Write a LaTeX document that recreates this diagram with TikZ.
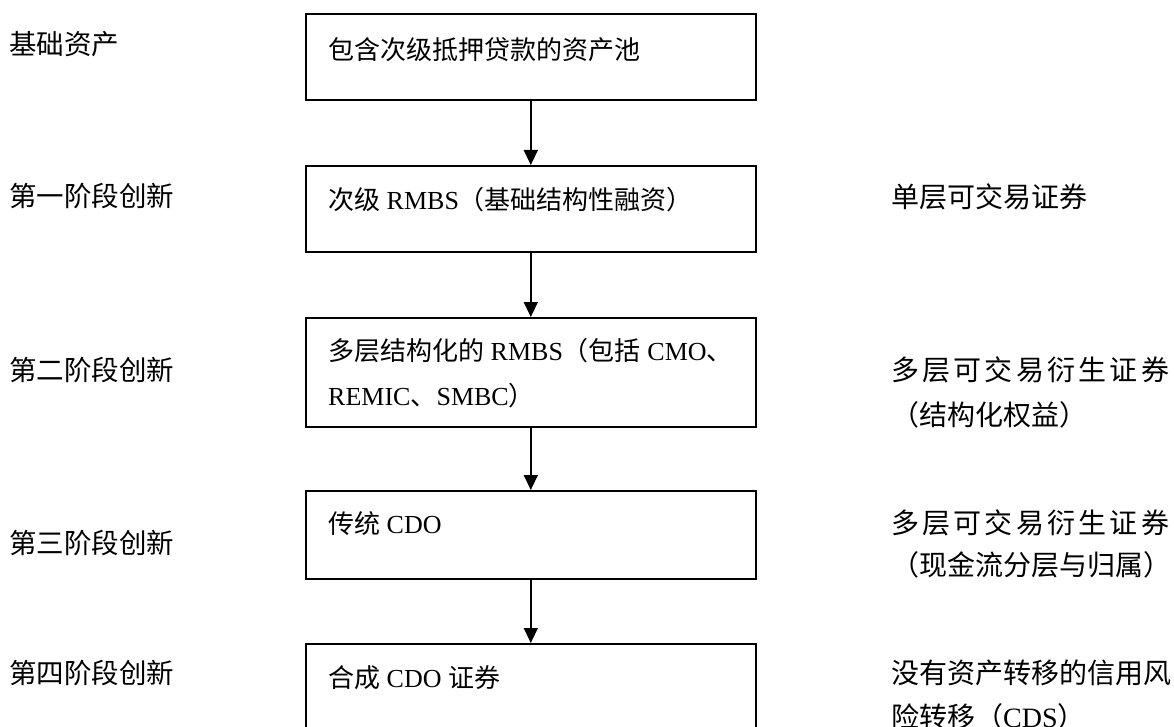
\documentclass[tikz,border=0pt]{standalone}
\usepackage{fontspec}
\setmainfont{Liberation Serif}
\newfontfamily\cjk{Noto Sans CJK SC}
\usetikzlibrary{arrows.meta}
\begin{document}
\begin{tikzpicture}[x=1pt,y=-1pt,
  box/.style={draw,line width=1.6pt,inner sep=0pt,anchor=north west,minimum width=450pt},
  txt/.style={anchor=base west,inner sep=0pt,font=\fontsize{26}{32}\selectfont},
  lbl/.style={anchor=base west,inner sep=0pt,font=\fontsize{27.5}{32}\selectfont},
  rlbl/.style={anchor=base west,inner sep=0pt,font=\fontsize{28}{32}\selectfont},
  flow/.style={line width=1.4pt,-{Triangle[length=15pt,width=14pt]}}]
\useasboundingbox (0,0) rectangle (1174,727);
\clip (0,0) rectangle (1174,727);
% boxes
\node[box,minimum height=86pt]  (b1) at (305,13)  {};
\node[box,minimum height=86pt]  (b2) at (305,165) {};
\node[box,minimum height=109pt] (b3) at (305,317) {};
\node[box,minimum height=88pt]  (b4) at (305,490) {};
\node[box,minimum height=120pt] (b5) at (305,643) {};
% connectors
\draw[flow] (b1.south) -- (b2.north);
\draw[flow] (b2.south) -- (b3.north);
\draw[flow] (b3.south) -- (b4.north);
\draw[flow] (b4.south) -- (b5.north);
% left labels
\node[lbl] (l1) at (9,55)  {\cjk 基础资产};
\node[lbl] (l2) at (9,207) {\cjk 第一阶段创新};
\node[lbl] (l3) at (9,380) {\cjk 第二阶段创新};
\node[lbl] (l4) at (9,553) {\cjk 第三阶段创新};
\node[lbl] (l5) at (9,683) {\cjk 第四阶段创新};
% box texts
\node[txt] (t1)  at (328,60)  {\cjk 包含次级抵押贷款的资产池};
\node[txt] (t2)  at (328,210) {{\cjk 次级} RMBS{\cjk （基础结构性融资）}};
\node[txt] (t3a) at (328,360) {{\cjk 多层结构化的} RMBS{\cjk （包括} CMO{\cjk 、}};
\node[txt] (t3b) at (328,405) {REMIC{\cjk 、}SMBC{\cjk ）}};
\node[txt] (t4)  at (328,533) {{\cjk 传统} CDO};
\node[txt] (t5)  at (328,687) {{\cjk 合成} CDO {\cjk 证券}};
% right texts
\node[rlbl] (r1)  at (891,208) {\cjk 单层可交易证券};
\node[rlbl] (r2a) at (891,380) {\cjk\makebox[278pt][s]{多\hfill 层\hfill 可\hfill 交\hfill 易\hfill 衍\hfill 生\hfill 证\hfill 券}};
\node[rlbl] (r2b) at (891,425) {\cjk （结构化权益）};
\node[rlbl] (r3a) at (891,533) {\cjk\makebox[278pt][s]{多\hfill 层\hfill 可\hfill 交\hfill 易\hfill 衍\hfill 生\hfill 证\hfill 券}};
\node[rlbl] (r3b) at (891,575) {\cjk （现金流分层与归属）};
\node[rlbl] (r4a) at (891,683) {\cjk 没有资产转移的信用风};
\node[rlbl] (r4b) at (891,727) {{\cjk 险转移（}CDS{\cjk ）}};
\end{tikzpicture}
\end{document}
